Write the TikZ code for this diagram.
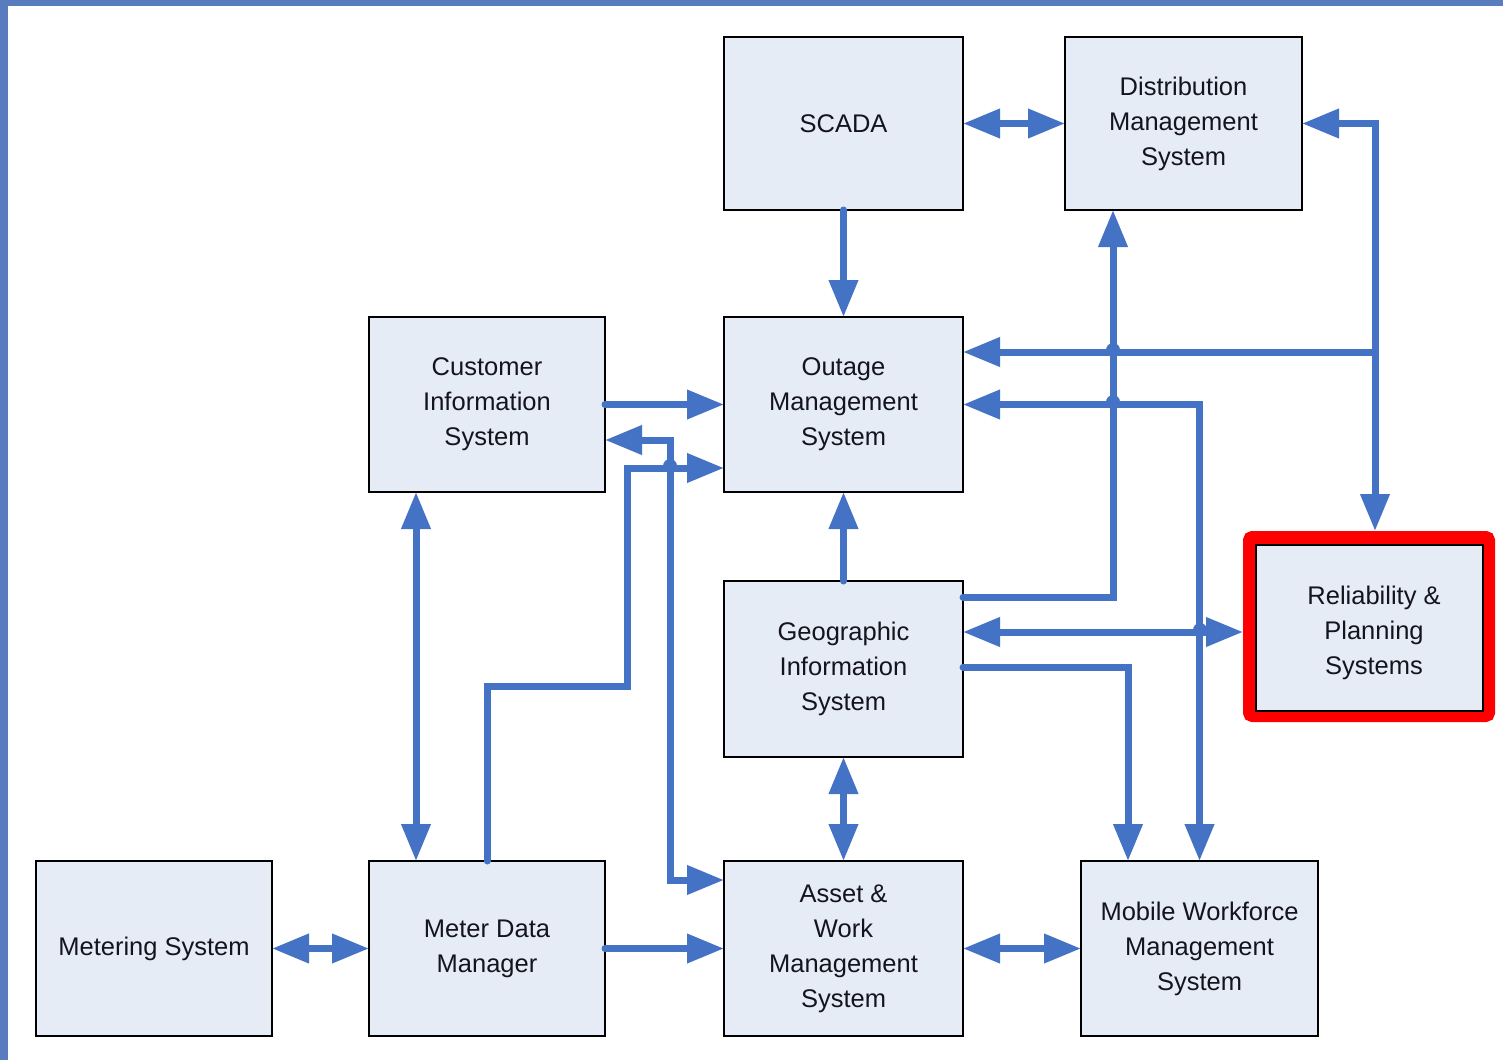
\documentclass[tikz,border=0pt]{standalone}
\usepackage{fontspec}
\setmainfont{Liberation Sans}
\usetikzlibrary{arrows.meta}
\definecolor{bgblue}{RGB}{88,124,190}
\definecolor{lineblue}{RGB}{68,114,196}
\definecolor{boxfill}{RGB}{230,236,246}
\definecolor{txt}{RGB}{20,20,30}
\tikzset{
  boxtext/.style={align=center, text=txt, font=\fontsize{25.5}{35}\selectfont},
  box/.style={draw=black, line width=1.8pt, fill=boxfill, inner sep=0pt, outer sep=0pt, boxtext},
  conn/.style={draw=lineblue, line width=7pt, line cap=round},
  tipx/.tip={Triangle[length=37pt,width=28pt]},
  one/.style={conn, -tipx},
  bi/.style={conn, tipx-tipx},
  hop/.style={fill=lineblue}
}
\begin{document}
\begin{tikzpicture}[x=1pt,y=-1pt]
\useasboundingbox (0,0) rectangle (1503,1060);
\fill[bgblue] (0,0) rectangle (1503,1060);
\fill[white] (8,6) rectangle (1503,1060);

% nodes
\node[box, minimum width=239, minimum height=173] (scada) at (843.5,123.5) {SCADA};
\node[box, minimum width=237, minimum height=173] (dms) at (1183.5,123.5) {Distribution\\Management\\System};
\node[box, minimum width=236, minimum height=175] (cis) at (487,404.5) {Customer\\Information\\System};
\node[box, minimum width=239, minimum height=175] (oms) at (843.5,404.5) {Outage\\Management\\System};
\node[box, minimum width=239, minimum height=176] (gis) at (843.5,669) {Geographic\\Information\\System};
\node[draw=red, line width=13pt, minimum width=239, minimum height=178, inner sep=0pt,
      outer sep=6.5pt, rounded corners=3pt] (rpsframe) at (1369,626.5) {};
\node[box, minimum width=227, minimum height=166] (rps) at (1369.5,628) {};
\node[boxtext, inner sep=0pt] (rpstext) at (1374,633) {Reliability \&\\Planning\\Systems};
\node[box, minimum width=236, minimum height=175] (ms) at (154,948.5) {Metering System};
\node[box, minimum width=236, minimum height=175] (mdm) at (487,948.5) {Meter Data\\Manager};
\node[box, minimum width=239, minimum height=175] (awms) at (843.5,948.5) {Asset \&\\Work\\Management\\System};
\node[box, minimum width=237, minimum height=175] (mwms) at (1199.5,948.5) {Mobile Workforce\\Management\\System};

% connectors
\draw[bi] (scada.east) -- (dms.west);
\draw[one] (scada.south) -- (oms.north);
\draw[bi] (dms.east) -| ([xshift=6pt]rpsframe.north);
\coordinate (j1) at (1375,352);
\draw[one] (j1) -- (oms.east |- j1);
\draw[one] (gis.east |- 0,597) -| (1113,0 |- dms.south);
\draw[bi] (oms.east) -| (mwms.north);
\draw[bi] (gis.east |- 0,632) -- (rpsframe.west |- 0,632);
\draw[one] (gis.east |- 0,667) -| (1128,0 |- mwms.north);
\draw[one] (gis.north) -- (oms.south);
\draw[bi] (gis.south) -- (awms.north);
\draw[one] (cis.east) -- (oms.west);
\draw[bi] (cis.east |- 0,440) -| (670,880) -- (awms.west |- 0,880);
\draw[one] (mdm.north) |- (627,686) |- (oms.west |- 0,468);
\draw[bi] (416,0 |- cis.south) -- (416,0 |- mdm.north);
\draw[bi] (ms.east) -- (mdm.west);
\draw[one] (mdm.east) -- (awms.west);
\draw[bi] (awms.east) -- (mwms.west);

% crossing hops
\fill[hop] (1113,350) circle (7);
\fill[hop] (1113,402) circle (7);
\fill[hop] (1200,630) circle (7);
\fill[hop] (670,466) circle (7);
\end{tikzpicture}
\end{document}
